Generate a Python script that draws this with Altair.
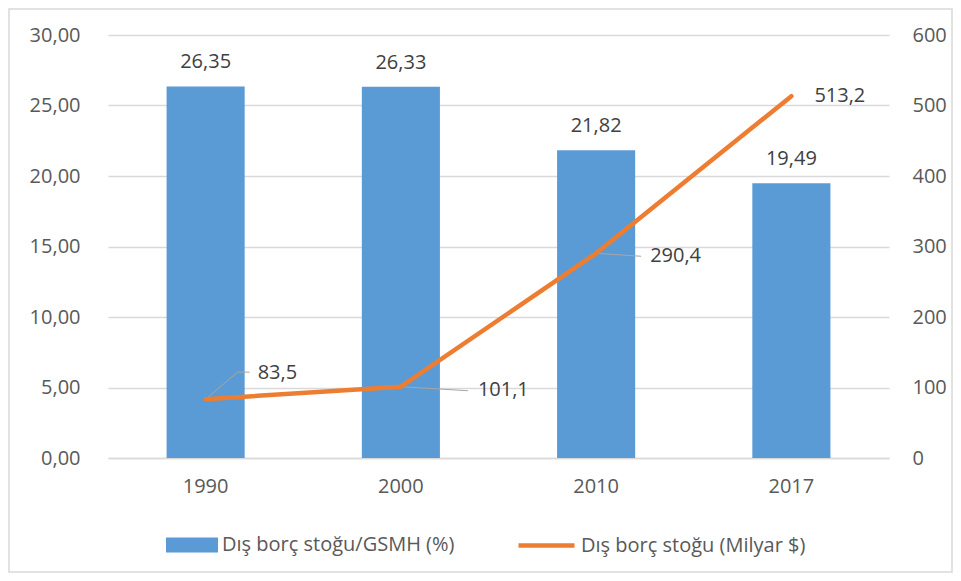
import altair as alt
import pandas as pd

years = ["1990", "2000", "2010", "2017"]
ratio = [26.35, 26.33, 21.82, 19.49]
stock = [83.5, 101.1, 290.4, 513.2]
series_bar = "Dış borç stoğu/GSMH (%)"
series_line = "Dış borç stoğu (Milyar $)"

FONT = "Open Sans"
FS = 20
AXIS_COLOR = "#595959"
LABEL_COLOR = "#404040"
GRID = "#d9d9d9"
BLUE = "#5B9BD5"
ORANGE = "#ED7D31"

df = pd.DataFrame({"year": years, "ratio": ratio, "stock": stock})
base = alt.Chart(df)

x_axis = alt.Axis(title=None, labelAngle=0, ticks=False, domainColor=GRID, domainWidth=1.5,
                  labelPadding=18, labelFontSize=FS, labelColor=AXIS_COLOR, labelFont=FONT)
x_scale = alt.Scale(paddingInner=0.6, paddingOuter=0.3)


def X():
    return alt.X("year:N", sort=years, scale=x_scale, axis=x_axis)


left_axis = alt.Axis(title=None, values=list(range(0, 31, 5)),
                     labelExpr="replace(format(datum.value, '.2f'), '.', ',')",
                     grid=True, gridColor=GRID, gridWidth=1.5, domain=False, ticks=False,
                     labelPadding=28, labelFontSize=FS, labelColor=AXIS_COLOR, labelFont=FONT)
right_axis = alt.Axis(title=None, orient="right", values=list(range(0, 601, 100)),
                      grid=False, domain=False, ticks=False, labelPadding=23,
                      labelFontSize=FS, labelColor=AXIS_COLOR, labelFont=FONT)
y_left_scale = alt.Scale(domain=[0, 30], nice=False)
y_right_scale = alt.Scale(domain=[0, 600], nice=False)


def YL(field="ratio:Q"):
    return alt.Y(field, scale=y_left_scale, axis=left_axis)


def YR(field="stock:Q"):
    return alt.Y(field, scale=y_right_scale, axis=right_axis)


bars = base.transform_calculate(series=f"'{series_bar}'").mark_bar().encode(
    x=X(),
    y=YL(),
    color=alt.Color("series:N", scale=alt.Scale(domain=[series_bar], range=[BLUE]),
                    legend=alt.Legend(orient="none", legendX=58, legendY=484, title=None,
                                      symbolType="M-1,-0.29H1V0.29H-1Z", symbolSize=2704,
                                      symbolStrokeWidth=0, symbolOpacity=1,
                                      labelFontSize=FS, labelFont=FONT, labelColor=AXIS_COLOR,
                                      labelOffset=4, padding=0, labelLimit=400)),
)

bar_text = base.transform_calculate(
    lbl="replace(format(datum.ratio, '.2f'), '.', ',')"
).mark_text(baseline="alphabetic", dy=-18, fontSize=FS, font=FONT, color=LABEL_COLOR).encode(
    x=X(),
    y=YL(),
    text="lbl:N",
)

border = alt.Chart(alt.Data(values=[{"a": 1}])).mark_rect(
    fill=None, stroke=GRID, strokeWidth=1.5
).encode(x=alt.value(-99), x2=alt.value(844), y=alt.value(-26), y2=alt.value(537))

left_group = alt.layer(bars, bar_text)

line = base.transform_calculate(series2=f"'{series_line}'").mark_line(
    strokeWidth=4.5, strokeCap="round", strokeJoin="round"
).encode(
    x=X(),
    y=YR(),
    stroke=alt.Stroke("series2:N", scale=alt.Scale(domain=[series_line], range=[ORANGE]),
                      legend=alt.Legend(orient="none", legendX=408, legendY=480, title=None,
                                        symbolType="stroke", symbolSize=3136,
                                        symbolStrokeWidth=4.5,
                                        labelFontSize=FS, labelFont=FONT, labelColor=AXIS_COLOR,
                                        labelOffset=4, padding=0, labelLimit=400)),
)


def leader(year, x0, y0, x1, y1):
    return base.transform_filter(alt.datum.year == year).mark_rule(
        color="#a6a6a6", strokeWidth=1,
        xOffset=x0, yOffset=y0, x2Offset=x1, y2Offset=y1,
    ).encode(
        x=X(),
        x2="year:N",
        y=YR(),
        y2="stock:Q",
    )


def line_label(year, dx, dy):
    return base.transform_filter(alt.datum.year == year).transform_calculate(
        lbl="replace(format(datum.stock, '.1f'), '.', ',')"
    ).mark_text(align="left", baseline="middle", dx=dx, dy=dy,
                fontSize=FS, font=FONT, color=LABEL_COLOR).encode(
        x=X(),
        y=YR(),
        text="lbl:N",
    )


right_group = alt.layer(
    leader("1990", 0, 0, 32, -27),
    leader("1990", 32, -27, 44, -27),
    leader("2000", 0, 0, 67, 4),
    leader("2010", 0, 0, 45, 3),
    line,
    line_label("1990", 52, -26),
    line_label("2000", 77, 3),
    line_label("2010", 54, 3),
    line_label("2017", 23, 0),
)

chart = alt.layer(border, left_group, right_group).resolve_scale(
    y="independent"
).properties(
    width=781, height=423,
    autosize=alt.AutoSizeParams(type="none"),
    padding={"left": 100, "top": 27, "right": 64, "bottom": 115},
    background="white",
).configure_view(stroke=None)

chart.save("out.html", embed_options={"renderer": "svg", "actions": False})
